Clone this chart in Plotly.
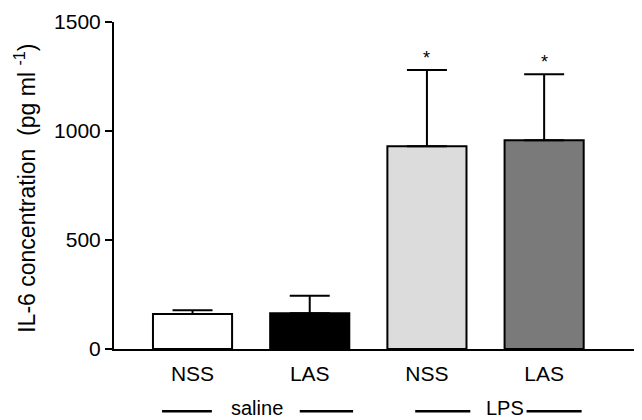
import plotly.graph_objects as go

# data
categories = ["NSS", "LAS", "NSS", "LAS"]
groups = ["saline", "saline", "LPS", "LPS"]
means = [160, 164, 930, 958]
sem_upper = [18, 80, 350, 302]
significant = [False, False, True, True]
bar_colors = ["#ffffff", "#000000", "#dcdcdc", "#7a7a7a"]
y_ticks = [0, 500, 1000, 1500]

# layout of the group brackets (offsets from group centre, in category units)
GROUP_DECOR = {
    "saline": dict(text_dx=0.05, left=(-0.76, -0.335), right=(0.415, 0.87)),
    "LPS": dict(text_dx=0.17, left=(-0.60, -0.13), right=(0.35, 0.82)),
}

xpos = list(range(len(categories)))
FONT = "Liberation Sans, Arial, Helvetica, sans-serif"

fig = go.Figure()
fig.add_trace(go.Bar(
    x=xpos, y=means, width=0.675,
    marker=dict(color=bar_colors, line=dict(color="black", width=2)),
    error_y=dict(type="data", array=sem_upper, arrayminus=[0]*4, symmetric=False,
                 color="black", thickness=2, width=20),
    showlegend=False,
))

annotations = []
for i, (m, e, s) in enumerate(zip(means, sem_upper, significant)):
    if s:
        annotations.append(dict(x=i, y=m + e, xref="x", yref="y", text="*",
                                showarrow=False, yanchor="bottom", yshift=0,
                                font=dict(size=18, color="black", family=FONT)))

# y-axis title
annotations.append(dict(x=0, y=0.49, xref="paper", yref="paper", xshift=-89,
                        xanchor="center", yanchor="middle", borderpad=0,
                        text="IL-6 concentration  (pg ml <sup>-1</sup>)", textangle=-90,
                        showarrow=False, font=dict(size=23, color="black", family=FONT)))

# group labels with lines
shapes = []
group_names = []
for g in groups:
    if g not in group_names:
        group_names.append(g)
YG = -0.19
for g in group_names:
    idx = [i for i, gg in enumerate(groups) if gg == g]
    c = (idx[0] + idx[-1]) / 2
    d = GROUP_DECOR[g]
    annotations.append(dict(x=c + d["text_dx"], y=YG, xref="x", yref="paper", text=g,
                            xanchor="center", yanchor="middle", yshift=3, borderpad=0,
                            showarrow=False, font=dict(size=20, color="black", family=FONT)))
    for seg in (d["left"], d["right"]):
        shapes.append(dict(type="line", xref="x", yref="paper", x0=c + seg[0], x1=c + seg[1],
                           y0=YG, y1=YG, line=dict(color="black", width=2.5)))

fig.update_layout(
    width=634, height=412,
    margin=dict(l=106, r=0, t=14, b=71),
    plot_bgcolor="white", paper_bgcolor="white",
    font=dict(family=FONT, size=21, color="black"),
    annotations=annotations, shapes=shapes,
    xaxis=dict(range=[-0.67, 3.835], tickvals=xpos, ticktext=categories,
               showline=True, linecolor="black", linewidth=2, ticks="",
               ticklabelstandoff=5,
               showgrid=False, zeroline=False, fixedrange=True),
    yaxis=dict(range=[0, 1500], tickvals=y_ticks, showline=True, linecolor="black",
               linewidth=2, ticks="outside", ticklen=7, tickwidth=2, tickcolor="black",
               showgrid=False, zeroline=False),
)

fig.write_html("out.html")
